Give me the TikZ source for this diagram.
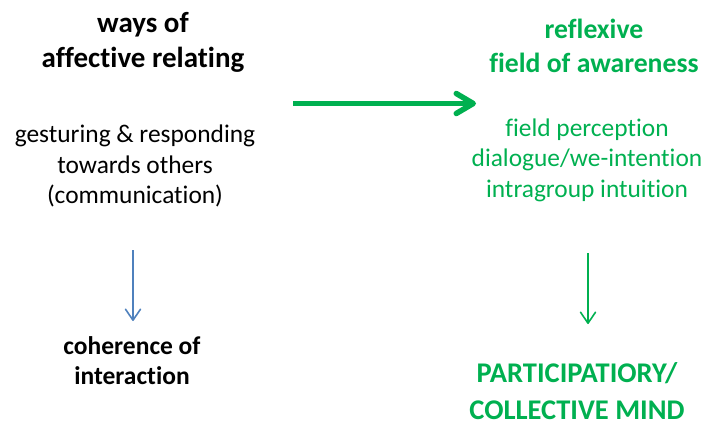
\documentclass[tikz,border=0pt]{standalone}
\usepackage{fontspec}
\setmainfont{Carlito}[Ligatures={NoCommon}]
\usetikzlibrary{arrows.meta}
\definecolor{grn}{HTML}{00B050}
\definecolor{blu}{HTML}{4F81BD}
\begin{document}
\begin{tikzpicture}[x=1pt,y=-1pt,
  head/.style={font=\bfseries\fontsize{29}{35}\selectfont,align=center,inner sep=0pt},
  body/.style={font=\fontsize{25.4}{30.5}\selectfont,align=center,inner sep=0pt},
  link/.style={-{Straight Barb[length=11pt,width=15pt,round]},line width=1.6pt}]
\useasboundingbox (0,0) rectangle (711,421);
\node[head] (ways) at (143,42) {ways of\\affective relating};
\node[body] (gest) at (135,166) {gesturing \& responding\\towards others\\(communication)};
\node[head,font=\bfseries\fontsize{25.5}{30}\selectfont] (coh) at (132,361) {coherence of\\interaction};
\node[head,text=grn,font=\bfseries\fontsize{27.7}{34}\selectfont] (refl) at (594,46) {reflexive\\field of awareness};
\node[body,text=grn] (field) at (587,160) {field perception\\dialogue/we-intention\\intragroup intuition};
\node[head,text=grn,font=\bfseries\fontsize{28.5}{37}\selectfont] (part) at (577,391) {PARTICIPATIORY/\\COLLECTIVE MIND};
\coordinate (a1) at (293,103.5);
\coordinate (a2) at (476,103.5);
\coordinate (b1) at (133,250);
\coordinate (b2) at (133,321);
\coordinate (c1) at (588,253);
\coordinate (c2) at (588,324);
\draw[grn,line width=5.5pt,-{Straight Barb[length=17pt,width=20pt,round]}] (a1) -- (a2);
\draw[link,blu] (b1) -- (b2);
\draw[link,grn] (c1) -- (c2);
\end{tikzpicture}
\end{document}
